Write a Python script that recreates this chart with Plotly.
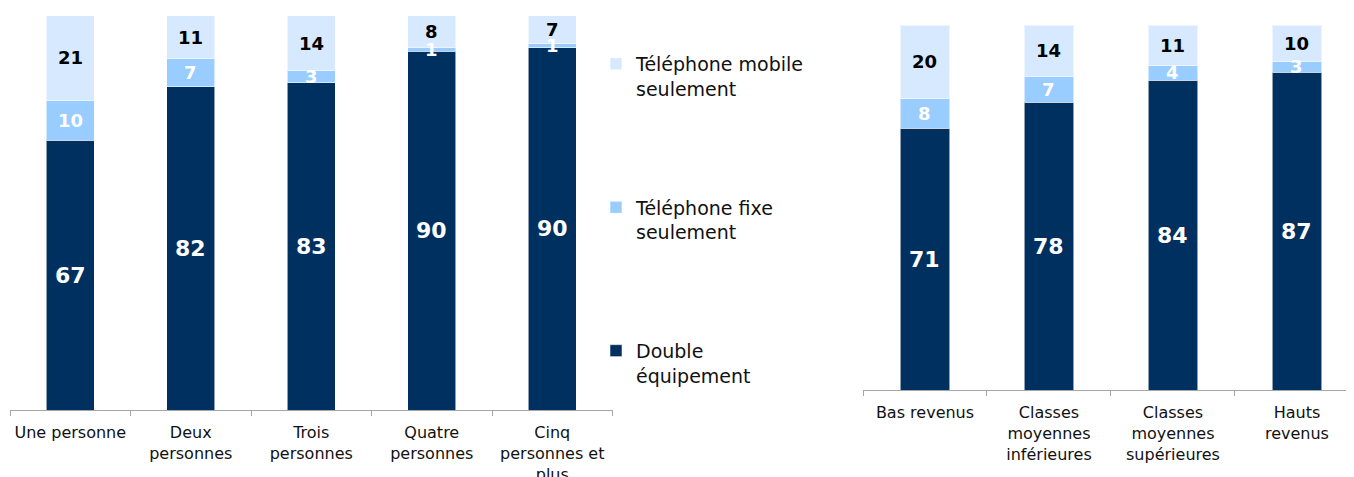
import plotly.graph_objects as go

# ---- data ----
foyer_categories = ["Une personne", "Deux<br>personnes", "Trois<br>personnes",
                    "Quatre<br>personnes", "Cinq<br>personnes et<br>plus"]
foyer_double = [67, 82, 83, 90, 90]
foyer_fixe = [10, 7, 3, 1, 1]
foyer_mobile = [21, 11, 14, 8, 7]

revenu_categories = ["Bas revenus", "Classes<br>moyennes<br>inférieures",
                     "Classes<br>moyennes<br>supérieures", "Hauts<br>revenus"]
revenu_double = [71, 78, 84, 87]
revenu_fixe = [8, 7, 4, 3]
revenu_mobile = [20, 14, 11, 10]

series_names = ["Double<br>équipement", "Téléphone fixe<br>seulement", "Téléphone mobile<br>seulement"]
series_colors = ["#00305F", "#99CCFF", "#D6E9FE"]
label_colors = ["white", "white", "black"]
label_sizes = [22, 18, 18]
legend_ranks = [3, 2, 1]

FONT = "DejaVu Sans"
OFF = 8  # page body margin
W, H = 1354 - OFF, 477 - OFF

def px_x(x):
    return (x - OFF) / W

def px_y(y):
    return 1 - (y - OFF) / H

fig = go.Figure()
annotations = []

def add_chart(cats, series, xa, ya, showlegend):
    for i, (name, vals) in enumerate(zip(series_names, series)):
        fig.add_trace(go.Bar(
            x=cats, y=vals, name=name, xaxis=xa, yaxis=ya,
            marker=dict(color=series_colors[i], line=dict(color="rgba(255,255,255,0.55)", width=1)),
            legendgroup=f"g{i}", legendrank=legend_ranks[i],
            showlegend=showlegend, hoverinfo="skip",
        ))
    # labels at segment centres (normalised to 100 %)
    for j, c in enumerate(cats):
        total = sum(s[j] for s in series)
        cum = 0.0
        for i, s in enumerate(series):
            pct = s[j] / total * 100
            annotations.append(dict(
                x=c, y=cum + pct / 2, xref=xa, yref=ya, text=f"<b>{s[j]}</b>",
                showarrow=False, font=dict(family=FONT, size=label_sizes[i], color=label_colors[i]),
            ))
            cum += pct

add_chart(foyer_categories, [foyer_double, foyer_fixe, foyer_mobile], "x", "y", True)
add_chart(revenu_categories, [revenu_double, revenu_fixe, revenu_mobile], "x2", "y2", False)

axis_style = dict(showline=True, linecolor="#A6A6A6", linewidth=1, ticks="outside",
                  tickson="boundaries", ticklen=5, tickcolor="#A6A6A6", showgrid=False,
                  ticklabelstandoff=8, tickangle=0, automargin=False,
                  tickfont=dict(family=FONT, size=16, color="#111111"), fixedrange=True)

fig.update_layout(
    width=W, height=H,
    margin=dict(l=0, r=0, t=0, b=0),
    paper_bgcolor="white", plot_bgcolor="white",
    barmode="stack", barnorm="percent", bargap=0.6,
    font=dict(family=FONT, color="#111111"),
    xaxis=dict(domain=[px_x(10), px_x(612.5)], anchor="y", **axis_style),
    yaxis=dict(domain=[px_y(410), px_y(15.5)], range=[0, 100], visible=False),
    xaxis2=dict(domain=[px_x(863), 1.0], anchor="y2", range=[-0.5, 3.46], **axis_style),
    yaxis2=dict(domain=[px_y(390), px_y(25)], range=[0, 100], visible=False),
    legend=dict(x=px_x(596), y=px_y(45), xanchor="left", yanchor="top",
                traceorder="grouped", tracegroupgap=91, valign="top",
                itemwidth=30, font=dict(family=FONT, size=19, color="#111111"),
                bgcolor="rgba(0,0,0,0)"),
    annotations=annotations,
    showlegend=True,
)

fig.write_html("out.html")
